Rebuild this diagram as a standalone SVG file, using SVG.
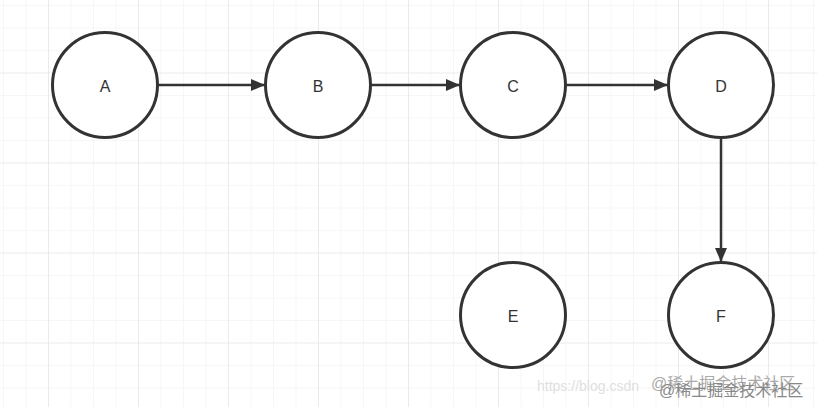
<svg xmlns="http://www.w3.org/2000/svg" width="817" height="407" viewBox="0 0 817 407">
<defs>
<pattern id="minor" x="3" y="5" width="22.5" height="22.5" patternUnits="userSpaceOnUse">
<path d="M0 0H22.5M0 0V22.5" fill="none" stroke="#f0f0f0" stroke-width="1.2"/>
</pattern>
<pattern id="major" x="48" y="72.5" width="90" height="90" patternUnits="userSpaceOnUse">
<path d="M0 0H90M0 0V90" fill="none" stroke="#e3e3e3" stroke-width="1.2"/>
</pattern>
<marker id="arr" viewBox="0 0 14 12" refX="14" refY="6" markerWidth="14" markerHeight="12" markerUnits="userSpaceOnUse" orient="auto">
<path d="M0 0L14 6L0 12Z" fill="#333"/>
</marker>
<style>
.node circle{fill:#fff;stroke:#333;stroke-width:3}
.node text{font-family:"Liberation Sans",Arial,sans-serif;font-size:16px;fill:#333;text-anchor:middle;dominant-baseline:central}
.edge{stroke:#333;stroke-width:2.5;fill:none;marker-end:url(#arr)}
</style>
</defs>
<rect width="817" height="407" fill="#fff"/>
<rect width="817" height="407" fill="url(#minor)"/>
<rect width="817" height="407" fill="url(#major)"/>
<g id="connectors">
<line class="edge" x1="158" y1="85" x2="265" y2="85"/>
<line class="edge" x1="371" y1="85" x2="460" y2="85"/>
<line class="edge" x1="566" y1="85" x2="668" y2="85"/>
<line class="edge" x1="721" y1="138" x2="721" y2="262"/>
</g>
<g id="A" class="node"><circle cx="105" cy="85" r="52.5"/><text x="105" y="86">A</text></g>
<g id="B" class="node"><circle cx="318" cy="85" r="52.5"/><text x="318" y="86">B</text></g>
<g id="C" class="node"><circle cx="513" cy="85" r="52.5"/><text x="513" y="86">C</text></g>
<g id="D" class="node"><circle cx="721" cy="85" r="52.5"/><text x="721" y="86">D</text></g>
<g id="E" class="node"><circle cx="513" cy="315" r="52.5"/><text x="513" y="316">E</text></g>
<g id="F" class="node"><circle cx="721" cy="315" r="52.5"/><text x="721" y="316">F</text></g>
<g id="watermark" font-family="'Liberation Sans','Noto Sans CJK SC',sans-serif">
<text x="537" y="391" font-size="14" fill="#e0e0e0">https://blog.csdn</text>
<text x="651" y="389" font-size="16" fill="#aaa">@稀土掘金技术社区</text>
<text x="659" y="396" font-size="16" fill="#888">@稀土掘金技术社区</text>
</g>
</svg>
